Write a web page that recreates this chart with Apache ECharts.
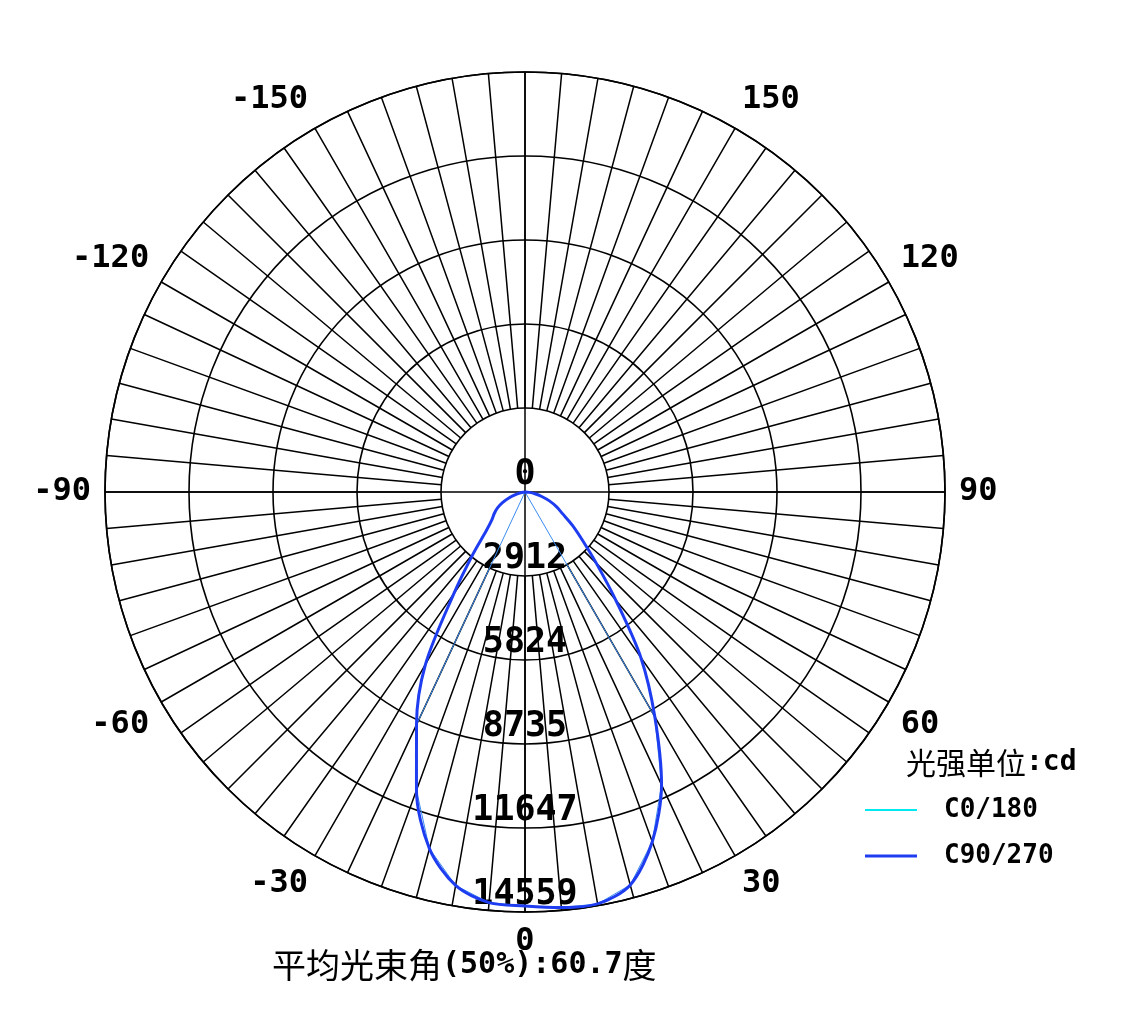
<!DOCTYPE html>
<html><head><meta charset="utf-8">
<script src="https://cdn.jsdelivr.net/npm/echarts@6/dist/echarts.min.js"></script>
<style>html,body{margin:0;padding:0;background:#fff}#c{width:1142px;height:1016px}</style>
</head><body><div id="c"></div>
<script>
const angles = [-90,-85,-80,-75,-70,-65,-60,-55,-50,-45,-40,-35,-30,-25,-20,-15,-10,-5,0,5,10,15,20,25,30,35,40,45,50,55,60,65,70,75,80,85,90];
const c90_270 = [0,60,150,320,580,850,1100,1300,1500,1900,2800,4300,6900,8900,11000,12800,13850,14290,14350,14460,14500,14100,12900,11200,9000,7000,4900,3500,2600,2000,1500,1200,900,600,350,150,0];
const c0_180 = [0,0,0,0,0,0,0,0,0,0,0,0,0,8900,11000,12800,13850,14290,14350,14460,14500,14100,12900,11200,9000,0,0,0,0,0,0,0,0,0,0,0,0];
const radiusTicks = [0,2912,5824,8735,11647,14559];
const maxI = 14559;
const angleLabels = [-150,-120,-90,-60,-30,0,30,60,90,120,150];
const titleCn1 = '平均光束角', titleNum = '(50%):60.7', titleCn2 = '度';
const unitCn = '光强单位', unitEn = ':cd';

const C=[525,492], R=420, RIN=84;
const mono='DejaVu Sans Mono';
const chart = echarts.init(document.getElementById('c'));
const hiddenRadius = (i)=>({polarIndex:i,type:'value',min:0,max:maxI,axisLine:{show:false},axisTick:{show:false},axisLabel:{show:false},splitLine:{show:false}});
chart.setOption({
  animation:false,
  legend:{orient:'vertical',left:860,top:792,itemWidth:52,itemHeight:10,itemGap:20,
    textStyle:{fontFamily:mono,fontWeight:'bold',fontSize:26,color:'#000',padding:[0,0,0,22]},
    data:[{name:'C0/180',icon:'path://M0,4L52,4L52,6L0,6Z'},{name:'C90/270',icon:'path://M0,3.5L52,3.5L52,6.5L0,6.5Z'}]},
  graphic:[
    {type:'text',left:906,top:748,style:{text:'{a|'+unitCn+'}{b|'+unitEn+'}',
      rich:{a:{fontFamily:'Noto Sans CJK SC',fontSize:30,fill:'#000',color:'#000'},b:{fontFamily:mono,fontWeight:'bold',fontSize:28,color:'#000'}}}},
    {type:'text',left:272,top:948,style:{text:'{a|'+titleCn1+'}{b|'+titleNum+'}{a|'+titleCn2+'}',
      rich:{a:{fontFamily:'Noto Sans CJK SC',fontSize:34,color:'#000'},b:{fontFamily:mono,fontWeight:'bold',fontSize:30,color:'#000'}}}}
  ],
  polar:[
    {center:C,radius:[RIN,R]},
    {center:C,radius:[0,R]},
    {center:C,radius:[0,R]},
    {center:C,radius:[0,R]}
  ],
  angleAxis:[
    {polarIndex:0,type:'value',min:-180,max:180,interval:5,startAngle:90,clockwise:false,
     axisLine:{show:false},axisTick:{show:false},axisLabel:{show:false},splitLine:{lineStyle:{color:'#000',width:1.5}}},
    {polarIndex:1,type:'value',min:-180,max:180,interval:90,startAngle:90,clockwise:false,
     axisLine:{show:false},axisTick:{show:false},axisLabel:{show:false},splitLine:{lineStyle:{color:'#000',width:1.5}}},
    {polarIndex:2,type:'value',min:-180,max:180,interval:30,startAngle:90,clockwise:false,
     axisLine:{show:true,lineStyle:{color:'#000',width:1.6}},axisTick:{show:false},splitLine:{show:false},
     axisLabel:{margin:14,fontFamily:mono,fontWeight:'bold',fontSize:32,color:'#000',
       formatter:v=>angleLabels.includes(v)?String(v):''}},
    {polarIndex:3,type:'value',min:-180,max:180,startAngle:270,clockwise:false,
     axisLine:{show:false},axisTick:{show:false},axisLabel:{show:false},splitLine:{show:false}}
  ],
  radiusAxis:[
    hiddenRadius(0),
    hiddenRadius(1),
    {polarIndex:2,type:'value',min:0,max:maxI,interval:maxI/5,axisLine:{show:false},axisTick:{show:false},axisLabel:{show:false},
     splitLine:{lineStyle:{color:'#000',width:1.6}}},
    {polarIndex:3,type:'value',min:0,max:maxI,interval:maxI/5,axisLine:{show:false},axisTick:{show:false},
     axisLabel:{margin:0,align:'center',verticalAlign:'bottom',fontFamily:mono,fontWeight:'bold',fontSize:35,color:'#000',
       formatter:v=>{let b=radiusTicks.reduce((a,t)=>Math.abs(t-v)<Math.abs(a-v)?t:a);return String(b);}},
     splitLine:{show:false}}
  ],
  series:[
    {name:'C0/180',type:'line',coordinateSystem:'polar',polarIndex:2,symbol:'none',
     lineStyle:{color:'#3a8cf0',width:1},itemStyle:{color:'#00e8f0'},
     data:angles.map((a,i)=>[c0_180[i],a])},
    {name:'C90/270',type:'line',coordinateSystem:'polar',polarIndex:2,symbol:'none',smooth:0.3,
     lineStyle:{color:'#1e3cf0',width:3},itemStyle:{color:'#1e3cf0'},
     data:angles.map((a,i)=>[c90_270[i],a])}
  ]
});
</script></body></html>
